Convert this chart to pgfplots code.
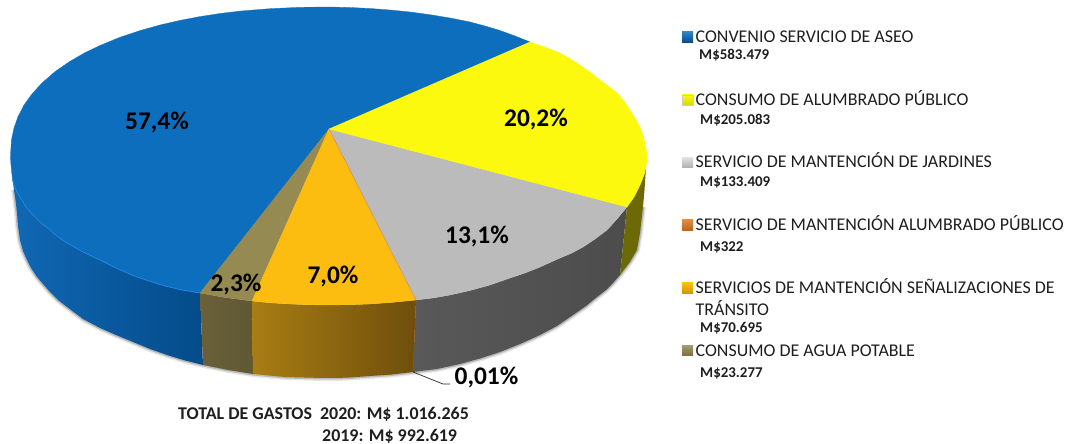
\documentclass[border=0pt]{standalone}
\usepackage{pgfplots}
\pgfplotsset{compat=1.18}
\usepackage{fontspec}
\setmainfont{Carlito}
\definecolor{cblue}{HTML}{0E6EBE}
\definecolor{cbluehi}{HTML}{1E88E8}
\definecolor{cyel}{HTML}{FCF90F}
\definecolor{cgrey}{HTML}{BBBBBB}
\definecolor{cgold}{HTML}{FDBC10}
\definecolor{cagua}{HTML}{948A52}
\definecolor{ctxt}{HTML}{1E1E1E}
\definecolor{sbL}{HTML}{1068B4}
\definecolor{sbR}{HTML}{044B8A}
\definecolor{saL}{HTML}{6A613A}
\definecolor{saR}{HTML}{5F5834}
\definecolor{sgL}{HTML}{A97D14}
\definecolor{sgR}{HTML}{6E4E0B}
\definecolor{syL}{HTML}{595959}
\definecolor{syR}{HTML}{4C4C4C}
\definecolor{solive}{HTML}{6C6A06}
\definecolor{corg}{HTML}{E0761E}
\tikzset{
 lg/.style={anchor=base west,inner sep=0pt,font=\fontsize{18}{18}\selectfont,text=ctxt},
 lv/.style={anchor=base west,inner sep=0pt,font=\fontsize{15}{15}\selectfont\bfseries,text=ctxt},
 pc/.style={anchor=center,inner sep=0pt,font=\fontsize{25.5}{25.5}\selectfont\bfseries,text=black},
 ft/.style={anchor=base west,inner sep=0pt,font=\fontsize{18}{18}\selectfont\bfseries,text=ctxt},
}
\begin{document}
\begin{tikzpicture}
\begin{axis}[x=1bp,y=1bp,hide axis,scale only axis,xmin=0,xmax=1070,ymin=0,ymax=444,y dir=reverse,clip=true]
\addplot[draw=none,forget plot] coordinates {(0,0)(1070,444)};
% soft shadow along the outer edge
\addplot[draw=black!10,line width=6pt,line join=round,line cap=butt] coordinates {(14,190)(15.5,200)(17,213)(18,226)(20,240)(23,251)(27,260)(31,268)(37,277)(43,284)(50,292)(58,300)(67,307)(83,319)(100,328)(116,335)(133,342)(150,349)(167,355)(185,360.5)(203,365)(228,370)(253,374)(285,377)(323,378)(347,377.7)(370,376)(392,374.5)(413,372)(437,369)(460,364)(480,358.5)(500,352)(520,344)(540,335)(557,326)(573,315)(586,306)(597,297)(606,290)(613,283)(620,275)(630,262)(637,250)(640,233)(643,207)};
\addplot[draw=black!28,line width=3pt,line join=round,line cap=butt] coordinates {(14,190)(15.5,200)(17,213)(18,226)(20,240)(23,251)(27,260)(31,268)(37,277)(43,284)(50,292)(58,300)(67,307)(83,319)(100,328)(116,335)(133,342)(150,349)(167,355)(185,360.5)(203,365)(228,370)(253,374)(285,377)(323,378)(347,377.7)(370,376)(392,374.5)(413,372)(437,369)(460,364)(480,358.5)(500,352)(520,344)(540,335)(557,326)(573,315)(586,306)(597,297)(606,290)(613,283)(620,275)(630,262)(637,250)(640,233)(643,207)};
% side walls
\addplot[draw=none,shade,left color=sbL,right color=sbR] coordinates {(10.5,155)(11,165)(12.7,180)(16,190)(20,197)(26,207)(33,215)(41,223)(50,230)(58,237)(67,243)(83,252)(100,260)(116,268)(133,275.5)(149,281)(165,286)(182,290)(200,293)(203,365)(185,360.5)(167,355)(150,349)(133,342)(116,335)(100,328)(83,319)(67,307)(58,300)(50,292)(43,284)(37,277)(31,268)(27,260)(23,251)(20,240)(18,226)(17,213)(15.5,200)(14,190)(12,177)(10.5,155)};
\addplot[draw=none,shade,left color=saL,right color=saR] coordinates {(200,293)(225,297.5)(252,301)(253,374)(228,370)(203,365)(200,293)};
\addplot[draw=none,shade,left color=sgL,right color=sgR] coordinates {(252,301)(270,302.8)(290,304)(310,304.8)(330,305)(350,304.7)(370,304)(393,302.3)(416,300)(413,372)(392,374.5)(370,376)(347,377.7)(323,378)(285,377)(253,374)(252,301)};
\addplot[draw=none,shade,left color=syL,right color=syR] coordinates {(416,300)(433,298)(450,295)(470,290.5)(490,285)(510,278)(525,273)(540,267)(560,258)(572,253)(583,247)(595,239)(607,230)(617,219)(627,207)(620,275)(613,283)(606,290)(597,297)(586,306)(573,315)(557,326)(540,335)(520,344)(500,352)(480,358.5)(460,364)(437,369)(413,372)(416,300)};
\addplot[draw=none,fill=solive] coordinates {(627,207)(634,197)(640,185)(644,175)(646,167)(644.5,190)(643,207)(640,233)(637,250)(630,262)(620,275)(627,207)};
\addplot[draw=corg!70!black,line width=0.4pt] coordinates {(416,300)(413,372)};
% top face
\addplot[draw=cblue,line width=0.3pt,fill=cblue] coordinates {(329,129)(530,42)(515,36)(500,30.5)(485,26)(470,22)(450,18)(430,14.7)(410,12)(390,10)(370,8.5)(350,7.5)(329,7)(300,7.3)(270,8.7)(240,11.1)(220,13.5)(200,16.6)(180,20.4)(160,25)(140,30.6)(120,37.3)(100,45.5)(85,52.7)(70,61.3)(55,71.7)(42,83)(32,94)(24,105)(18,116.7)(14,128)(11.5,139.7)(10.5,155)(11,165)(12.7,180)(16,190)(20,197)(26,207)(33,215)(41,223)(50,230)(58,237)(67,243)(83,252)(100,260)(116,268)(133,275.5)(149,281)(165,286)(182,290)(200,293)(329,129)};
\addplot[draw=cagua,line width=0.3pt,fill=cagua] coordinates {(329,129)(200,293)(225,297.5)(252,301)(329,129)};
\addplot[draw=cgold,line width=0.3pt,fill=cgold] coordinates {(329,129)(252,301)(270,302.8)(290,304)(310,304.8)(330,305)(350,304.7)(370,304)(393,302.3)(416,300)(329,129)};
\addplot[draw=cgrey,line width=0.3pt,fill=cgrey] coordinates {(329,129)(416,300)(433,298)(450,295)(470,290.5)(490,285)(510,278)(525,273)(540,267)(560,258)(572,253)(583,247)(595,239)(607,230)(617,219)(627,207)(329,129)};
\addplot[draw=cyel,line width=0.3pt,fill=cyel] coordinates {(329,129)(627,207)(634,197)(640,185)(644,175)(646,167)(647,160)(646.5,151)(645,143)(643,135)(640,127)(635,118)(630,110)(624,101)(617,93)(609,86.5)(600,80)(590,72)(580,65)(570,58.5)(560,53)(545,47)(530,42)(329,129)};
\addplot[draw=corg!85,line width=0.5pt] coordinates {(329,129)(416,300)};
\addplot[draw=cbluehi,line width=0.7pt] coordinates {(12.7,180)(16,190)(20,197)(26,207)(33,215)(41,223)(50,230)(58,237)(67,243)(83,252)(100,260)(116,268)(133,275.5)(149,281)(165,286)(182,290)(200,293)};
% leader
\addplot[draw=black!85,line width=0.7pt] coordinates {(413,372)(443,384)(450,384)};
% legend keys
\addplot[draw=none,shade,top color=cblue!85,bottom color=sbR] coordinates {(682,32)(693,32)(693,42.5)(682,42.5)(682,32)};
\addplot[draw=black!20,line width=0.2pt,shade,top color=cyel,bottom color=cyel!85!black] coordinates {(682,95)(693,95)(693,105.5)(682,105.5)(682,95)};
\addplot[draw=none,shade,top color=black!12,bottom color=black!32] coordinates {(682,157.5)(693,157.5)(693,168)(682,168)(682,157.5)};
\addplot[draw=none,shade,top color=corg!85,bottom color=corg!85!black] coordinates {(682,220)(693,220)(693,230.5)(682,230.5)(682,220)};
\addplot[draw=none,shade,top color=cgold,bottom color=cgold!80!black] coordinates {(682,283)(693,283)(693,293.5)(682,293.5)(682,283)};
\addplot[draw=none,shade,top color=cagua!85,bottom color=cagua!80!black] coordinates {(682,345.5)(693,345.5)(693,356)(682,356)(682,345.5)};
% labels on the pie
\node[pc] at (axis cs:157,122) {57,4\%};
\node[pc] at (axis cs:536,119) {20,2\%};
\node[pc] at (axis cs:477,236) {13,1\%};
\node[pc] at (axis cs:333,276) {7,0\%};
\node[pc] at (axis cs:236,284) {2,3\%};
\node[pc] at (axis cs:486.5,377) {0,01\%};
% legend text
\node[lg] at (axis cs:695.5,42.7) {CONVENIO SERVICIO DE ASEO};
\node[lv] at (axis cs:699,59.3) {M\$583.479};
\node[lg] at (axis cs:695.5,105.7) {CONSUMO DE ALUMBRADO PÚBLICO};
\node[lv] at (axis cs:700,125) {M\$205.083};
\node[lg] at (axis cs:695.5,167.7) {SERVICIO DE MANTENCIÓN DE JARDINES};
\node[lv] at (axis cs:700,186.7) {M\$133.409};
\node[lg] at (axis cs:695.5,230.7) {SERVICIO DE MANTENCIÓN ALUMBRADO PÚBLICO};
\node[lv] at (axis cs:700,251.7) {M\$322};
\node[lg] at (axis cs:695.5,294) {SERVICIOS DE MANTENCIÓN SEÑALIZACIONES DE};
\node[lg] at (axis cs:695.5,315.7) {TRÁNSITO};
\node[lv] at (axis cs:700,333) {M\$70.695};
\node[lg] at (axis cs:695.5,356.7) {CONSUMO DE AGUA POTABLE};
\node[lv] at (axis cs:700,378) {M\$23.277};
% footer
\node[ft] at (axis cs:178,420) {TOTAL DE GASTOS\ \ 2020: M\$ 1.016.265};
\node[ft] at (axis cs:322,441) {2019: M\$ 992.619};
\end{axis}
\end{tikzpicture}
\end{document}
